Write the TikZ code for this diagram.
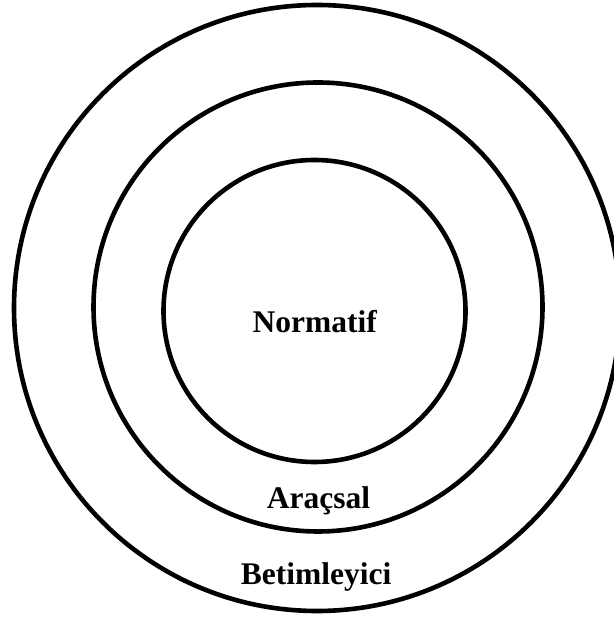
\documentclass[tikz,border=0pt]{standalone}
\usepackage{fontspec}
\setmainfont{Liberation Serif}
\begin{document}
\begin{tikzpicture}[x=1pt,y=1pt,
  ring/.style={draw=black, line width=4.6pt, circle, inner sep=0pt, outer sep=0pt},
  lbl/.style={font=\fontsize{31.5}{37}\selectfont\bfseries, anchor=base, inner sep=0pt}]
\useasboundingbox (0,0) rectangle (613,617);
\node[ring, minimum size=606pt] (outer) at (317,309) {};
\node[ring, minimum size=449pt] (middle) at (318,310) {};
\node[ring, minimum size=302pt] (inner) at (314.5,306) {};
\node[lbl] (normatif) at (314.7,284) {Normatif};
\node[lbl] (aracsal) at (318.5,108) {Araçsal};
\node[lbl] (betim) at (316,32) {Betimleyici};
\end{tikzpicture}
\end{document}
